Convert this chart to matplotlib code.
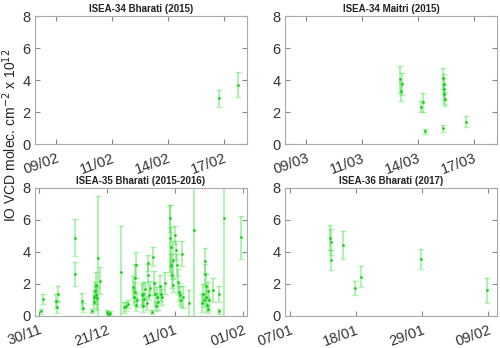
import datetime as dt
import matplotlib
matplotlib.use("Agg")
import matplotlib.pyplot as plt
import matplotlib.dates as mdates

# ISEA-34 Bharati (2015): days after 08/02/2015
b34_start = "2015-02-08"
b34_days = [8.77, 9.67]
b34_vcd = [2.85, 3.72]
b34_err = [0.53, 0.81]
b34_ticks = [1.0, 3.667, 6.333, 9.0]

# ISEA-34 Maitri (2015): days after 08/03/2015
mai_start = "2015-03-08"
mai_days = [5.50, 5.53, 5.56, 6.48, 6.59, 6.68, 7.52, 7.55, 7.57, 7.58, 7.59, 7.60, 8.61]
mai_vcd = [4.05, 3.30, 3.75, 2.33, 2.60, 0.80, 0.98, 4.10, 3.75, 3.45, 3.10, 2.80, 1.40]
mai_err = [0.85, 0.60, 0.70, 0.35, 0.62, 0.16, 0.21, 0.68, 0.60, 0.70, 0.60, 0.45, 0.34]
mai_ticks = [1.0, 3.667, 6.333, 9.0]

# ISEA-35 Bharati (2015-2016): days after 30/11/2015
b35_start = "2015-11-30"
b35_days = [0.5, 1.3, 5.3, 5.5, 6.0, 11.1, 11.2, 13.3, 13.5,
            16.3, 16.9, 17.1, 17.3, 17.5, 17.7, 17.9, 18.1, 18.8,
            21.1, 21.5, 21.8, 25.3, 26.4, 27.0, 27.6,
            29.1, 29.3, 29.5, 29.7, 29.9, 30.1, 30.2,
            31.7, 32.0, 32.2, 32.5, 32.8, 33.2, 33.6, 33.8, 34.0, 34.3,
            35.0, 35.3, 35.6, 35.8, 36.1, 36.4, 36.8,
            37.3, 37.6, 38.0, 38.9,
            40.3, 40.5, 40.7, 40.9, 41.1, 41.3, 41.5,
            42.1, 42.4, 42.7, 43.0, 43.3, 43.6, 43.9, 44.2, 44.4,
            46.4, 47.8,
            50.3, 50.6, 50.9, 51.1, 51.3, 51.5, 51.7, 51.9, 52.1, 52.3, 52.5,
            53.6, 55.5, 55.6, 57.2, 62.5]
b35_vcd = [0.30, 1.05, 0.95, 0.58, 1.35, 4.90, 2.60, 0.92, 0.52,
           0.30, 1.20, 0.90, 1.55, 1.95, 1.30, 1.10, 3.65, 2.20,
           0.25, 0.10, 0.18, 2.75, 0.55, 0.60, 0.75,
           1.80, 1.20, 2.40, 1.50, 3.20, 0.70, 1.00,
           1.30, 0.65, 1.40, 1.05, 1.70, 0.80, 3.30, 2.55, 1.30, 1.75,
           0.25, 3.70, 2.05, 1.40, 0.60, 1.20, 0.90,
           1.85, 1.40, 1.20, 2.05,
           4.85, 6.10, 3.20, 4.30, 2.55, 1.95, 3.50,
           5.05, 4.10, 3.20, 2.15, 1.50, 1.30, 1.00, 3.90, 1.20,
           0.80, 5.40,
           0.80, 1.40, 1.00, 3.45, 2.60, 1.85, 1.20, 0.70, 1.55, 0.45, 1.00,
           1.60, 1.40, 0.30, 6.15, 4.92]
b35_err = [0.15, 0.30, 0.45, 0.38, 0.50, 1.15, 0.75, 0.50, 0.30,
           0.14, 0.45, 0.40, 0.60, 0.80, 0.55, 0.70, 3.85, 0.85,
           0.12, 0.10, 0.12, 2.90, 0.35, 0.30, 0.25,
           0.70, 0.50, 0.85, 0.60, 0.80, 0.40, 0.45,
           0.70, 0.40, 0.70, 0.40, 0.45, 0.40, 0.50, 0.70, 0.30, 0.45,
           0.15, 0.60, 0.75, 0.70, 0.30, 0.60, 0.55,
           0.70, 0.45, 0.50, 0.70,
           2.10, 0.85, 0.70, 1.25, 0.80, 0.45, 1.20,
           0.55, 0.60, 0.70, 0.80, 0.55, 0.60, 0.45, 0.80, 0.70,
           0.80, 5.60,
           0.55, 0.60, 0.45, 0.80, 0.65, 0.75, 0.60, 0.40, 0.55, 0.25, 0.60,
           0.75, 0.50, 0.15, 6.30, 1.33]
b35_ticks = [0, 21, 42, 63]

# ISEA-36 Bharati (2017): days after 07/01/2017
b36_start = "2017-01-07"
b36_days = [6.75, 6.80, 6.85, 8.78, 10.83, 11.78, 21.9, 32.8]
b36_vcd = [4.90, 4.62, 3.50, 4.45, 1.77, 2.45, 3.55, 1.60]
b36_err = [0.80, 0.83, 0.60, 0.88, 0.43, 0.67, 0.63, 0.80]
b36_ticks = [0, 11, 22, 33]

panels = [
    ("ISEA-34 Bharati (2015)", b34_start, b34_days, b34_vcd, b34_err, b34_ticks, (0.0, 10.1)),
    ("ISEA-34 Maitri (2015)", mai_start, mai_days, mai_vcd, mai_err, mai_ticks, (0.0, 10.1)),
    ("ISEA-35 Bharati (2015-2016)", b35_start, b35_days, b35_vcd, b35_err, b35_ticks, (-1.2, 64.2)),
    ("ISEA-36 Bharati (2017)", b36_start, b36_days, b36_vcd, b36_err, b36_ticks, (-0.83, 34.5)),
]

positions = [
    [0.070, 0.586, 0.424, 0.368],
    [0.570, 0.586, 0.424, 0.368],
    [0.070, 0.092, 0.424, 0.368],
    [0.570, 0.092, 0.424, 0.368],
]

plt.rcParams["font.family"] = ["Liberation Sans", "DejaVu Sans"]

fig = plt.figure(figsize=(5.0, 3.48), dpi=100)

for (title, start, days, vcd, err, ticks, lim), pos in zip(panels, positions):
    ax = fig.add_axes(pos)
    t0 = mdates.date2num(dt.datetime.fromisoformat(start))
    x = [t0 + d for d in days]
    ax.errorbar(x, vcd, yerr=err, fmt="none", ecolor="#44dd44", alpha=0.4,
                elinewidth=1.5, capsize=2.5, capthick=1.0)
    ax.plot(x, vcd, ".", color="#11cc11", markersize=1.8)
    ax.set_xlim(t0 + lim[0], t0 + lim[1])
    ax.set_ylim(0, 8)
    ax.set_yticks([0, 2, 4, 6, 8])
    ax.set_xticks([t0 + t for t in ticks])
    ax.xaxis.set_major_formatter(mdates.DateFormatter("%d/%m"))
    for lbl in ax.get_xticklabels():
        lbl.set_rotation(20)
        lbl.set_ha("right")
        lbl.set_rotation_mode("anchor")
    ax.tick_params(direction="in", length=3.5, width=0.8, top=True, right=True,
                   color="#888888", labelcolor="#333333", labelsize=10.5, pad=3)
    ax.tick_params(axis="x", pad=5)
    for s in ax.spines.values():
        s.set_color("#aaaaaa")
        s.set_linewidth(0.8)
    ax.set_title(title, fontsize=7, fontweight="bold", pad=3, color="#222222")

fig.text(0.02, 0.61, "IO VCD molec. cm$^{-2}$ x 10$^{12}$", rotation=90,
         ha="center", va="center", fontsize=10, color="#222222")

fig.savefig("out.png", dpi=100)
